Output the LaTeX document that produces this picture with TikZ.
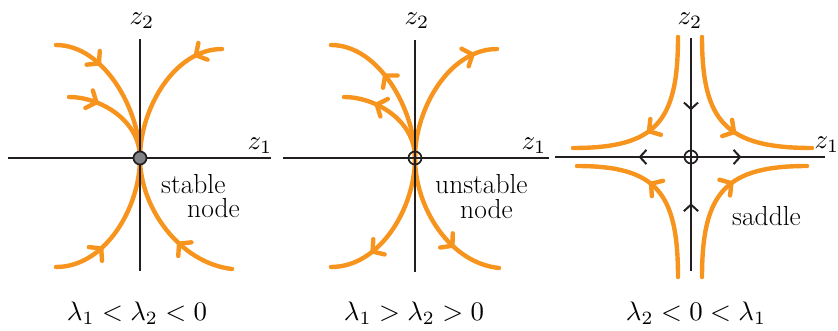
\RequirePackage{fix-cm}
\documentclass[tikz,border=0pt]{standalone}
\usetikzlibrary{arrows.meta,decorations.markings}
\definecolor{flowc}{HTML}{F7941D}
\definecolor{axisc}{HTML}{231F20}
\definecolor{dotc}{HTML}{808285}
\begin{document}
\begin{tikzpicture}[x=1pt,y=-1pt,
  traj/.style={draw=flowc, line width=4.4pt, line cap=round},
  axisline/.style={draw=axisc, line width=1.7pt},
  fwd/.style={decoration={markings, mark=at position #1 with {\arrow{Straight Barb[length=8pt,width=19pt,line cap=round]}}}, postaction={decorate}},
  bwd/.style={decoration={markings, mark=at position #1 with {\arrowreversed{Straight Barb[length=8pt,width=19pt,line cap=round]}}}, postaction={decorate}},
  afwd/.style={decoration={markings, mark=at position #1 with {\arrow{Straight Barb[length=6.5pt,width=14pt]}}}, postaction={decorate}},
  abwd/.style={decoration={markings, mark=at position #1 with {\arrowreversed{Straight Barb[length=6.5pt,width=14pt]}}}, postaction={decorate}},
  lbl/.style={inner sep=0pt, anchor=base, font=\fontsize{10}{12}\selectfont, scale=2.68},
  zlbl/.style={inner sep=0pt, anchor=base, font=\fontsize{10}{12}\selectfont, scale=2.7},
  zlblw/.style={inner sep=0pt, anchor=base west, font=\fontsize{10}{12}\selectfont, scale=2.7},
  word/.style={inner sep=0pt, anchor=base west, font=\fontsize{27.5}{24}\selectfont},
  fixed/.style={circle, draw=axisc, line width=1.7pt, minimum size=13pt, inner sep=0pt}
]
\useasboundingbox (0,0) rectangle (838,330);

% ---------- Panel 1: stable node ----------
\begin{scope}[shift={(140,158)}]
  \coordinate (O1) at (0,0);
  \coordinate (T1) at (0,-119);
  \coordinate (B1) at (0,113);
  \coordinate (L1) at (-132,0);
  \coordinate (R1) at (131,0);
  \coordinate (a1) at (-84,-113);
  \coordinate (b1) at (-71,-61);
  \coordinate (c1) at (82,-109);
  \coordinate (d1) at (-84,109);
  \coordinate (e1) at (92,111);
  \draw[traj,fwd=0.33] (a1) .. controls (-36,-113) and (0,-48) .. (O1);
  \draw[traj,fwd=0.3] (b1) .. controls (-40,-61) and (0,-38) .. (O1);
  \draw[traj,fwd=0.2] (c1) .. controls (35,-109) and (0,-50) .. (O1);
  \draw[traj,fwd=0.35] (d1) .. controls (-35,109) and (0,50) .. (O1);
  \draw[traj,fwd=0.4] (e1) .. controls (40,105) and (0,50) .. (O1);
  \draw[axisline] (T1) -- (B1);
  \draw[axisline] (L1) -- (R1);
  \node[fixed, fill=dotc] (N1) at (O1) {};
\end{scope}
\node[zlbl] (z21) at (142,24) {$z_2$};
\node[zlblw] (z11) at (247,149) {$z_1$};
\node[word] (s1) at (161,193) {stable};
\node[word] (s2) at (187,217) {node};
\node[lbl] (lam1) at (137,320) {$\lambda_1<\lambda_2<0$};

% ---------- Panel 2: unstable node ----------
\begin{scope}[shift={(415,158)}]
  \coordinate (O2) at (0,0);
  \coordinate (T2) at (0,-118);
  \coordinate (B2) at (0,114);
  \coordinate (L2) at (-132,0);
  \coordinate (R2) at (134,0);
  \coordinate (a2) at (-84,-113);
  \coordinate (b2) at (-71,-61);
  \coordinate (c2) at (82,-109);
  \coordinate (d2) at (-84,109);
  \coordinate (e2) at (84,110);
  \draw[traj,bwd=0.4] (a2) .. controls (-36,-113) and (0,-48) .. (O2);
  \draw[traj,bwd=0.3] (b2) .. controls (-40,-61) and (0,-38) .. (O2);
  \draw[traj,bwd=0.15] (c2) .. controls (35,-109) and (0,-50) .. (O2);
  \draw[traj,bwd=0.28] (d2) .. controls (-35,109) and (0,50) .. (O2);
  \draw[traj,bwd=0.33] (e2) .. controls (35,105) and (0,50) .. (O2);
  \draw[axisline] (T2) -- (B2);
  \draw[axisline] (L2) -- (R2);
  \node[fixed] (N2) at (O2) {};
\end{scope}
\node[zlbl] (z22) at (417,24) {$z_2$};
\node[zlblw] (z12) at (521,149) {$z_1$};
\node[word] (u1) at (435,193) {unstable};
\node[word] (u2) at (460,218) {node};
\node[lbl] (lam2) at (414,320) {$\lambda_1>\lambda_2>0$};

% ---------- Panel 3: saddle ----------
\begin{scope}[shift={(691,157)}]
  \coordinate (O3) at (0,0);
  \coordinate (T3) at (0,-119);
  \coordinate (B3) at (0,114);
  \coordinate (L3) at (-136,0);
  \coordinate (R3) at (134,0);
  \coordinate (a3) at (-13,-120);
  \coordinate (a3e) at (-118,-9);
  \coordinate (b3) at (11,-120);
  \coordinate (b3e) at (121,-9);
  \coordinate (c3) at (-13,120);
  \coordinate (c3e) at (-114,9);
  \coordinate (d3) at (11,120);
  \coordinate (d3e) at (116,9);
  \draw[traj,fwd=0.58] (a3) .. controls (-13,-35) and (-35,-9) .. (a3e);
  \draw[traj,fwd=0.58] (b3) .. controls (11,-35) and (35,-9) .. (b3e);
  \draw[traj,fwd=0.58] (c3) .. controls (-13,35) and (-35,9) .. (c3e);
  \draw[traj,fwd=0.58] (d3) .. controls (11,35) and (35,9) .. (d3e);
  \draw[axisline,afwd=0.31,abwd=0.71] (T3) -- (B3);
  \draw[axisline,abwd=0.31,afwd=0.69] (L3) -- (R3);
  \node[fixed] (N3) at (O3) {};
\end{scope}
\node[zlbl] (z23) at (690,24) {$z_2$};
\node[zlblw] (z13) at (814,148) {$z_1$};
\node[word] (sd) at (732,225) {saddle};
\node[lbl] (lam3) at (696,320) {$\lambda_2<0<\lambda_1$};
\end{tikzpicture}
\end{document}
